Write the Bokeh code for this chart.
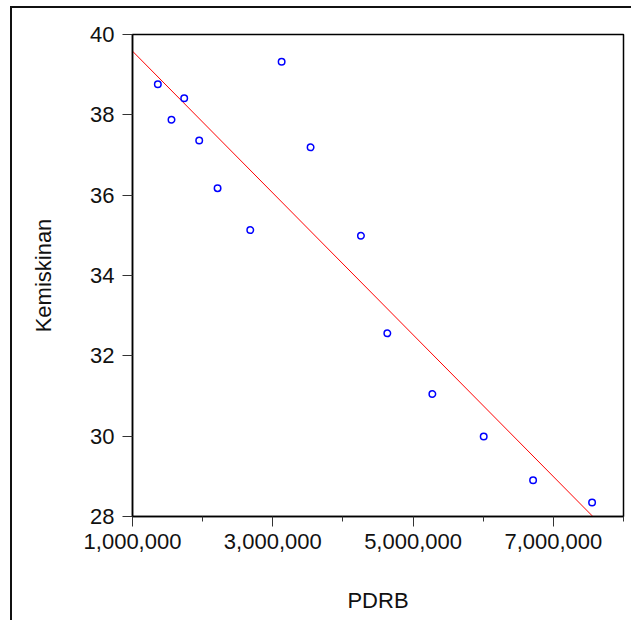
import numpy as np
from bokeh.plotting import figure
from bokeh.models import Range1d, FixedTicker, NumeralTickFormatter, ColumnDataSource
from bokeh.embed import file_html
from bokeh.resources import INLINE

# Data (PDRB vs Kemiskinan)
pdrb = [1361000, 1737000, 1556000, 1951000, 2213000, 3126000, 3539000,
        2679000, 4257000, 4633000, 5275000, 6007000, 6711000, 7552000]
kemiskinan = [38.76, 38.41, 37.88, 37.36, 36.17, 39.32, 37.19,
              35.13, 34.99, 32.56, 31.05, 29.99, 28.90, 28.35]

x_major_ticks = [1000000, 3000000, 5000000, 7000000]
x_minor_ticks = [2000000, 4000000, 6000000, 8000000]
y_ticks = [28, 30, 32, 34, 36, 38, 40]
x_limits = [1000000, 8000000]
y_limits = [28, 40]

FONT = "Liberation Sans"

p = figure(width=621, height=614, output_backend="svg", toolbar_location=None,
           x_range=Range1d(*x_limits), y_range=Range1d(*y_limits),
           min_border_left=120, min_border_top=26, min_border_right=10,
           min_border_bottom=106, background_fill_color="white",
           border_fill_color="white")
p.styles = {"border-left": "2px solid #111", "border-top": "2px solid #111",
            "margin-left": "10px", "margin-top": "6px"}

p.grid.visible = False
p.outline_line_color = "black"
p.outline_line_width = 1.5

# regression line through the library's fit of the data
slope, intercept = np.polyfit(np.array(pdrb) / 1e6, np.array(kemiskinan), 1)
line_x = np.array(x_limits, dtype=float)
line_y = intercept + slope * line_x / 1e6
p.line(line_x, line_y, line_color="#FF0000", line_width=1)

src = ColumnDataSource(dict(x=pdrb, y=kemiskinan))
p.scatter("x", "y", source=src, marker="circle", size=6.5,
          fill_color=None, line_color="#0000FF", line_width=1.5)

# x axis
xa = p.xaxis[0]
xa.ticker = FixedTicker(ticks=x_major_ticks, minor_ticks=x_minor_ticks)
xa.formatter = NumeralTickFormatter(format="0,0")
xa.axis_label = "PDRB"
# y axis
ya = p.yaxis[0]
ya.ticker = FixedTicker(ticks=y_ticks, minor_ticks=[])
ya.axis_label = "Kemiskinan"

for ax in (xa, ya):
    ax.axis_line_color = "black"
    ax.axis_line_width = 1.5
    ax.major_tick_in = 0
    ax.major_tick_out = 10
    ax.minor_tick_in = 0
    ax.minor_tick_out = 5
    ax.major_tick_line_color = "#333333"
    ax.minor_tick_line_color = "#333333"
    ax.major_label_text_font = FONT
    ax.major_label_text_font_size = "22px"
    ax.major_label_text_color = "#111111"
    ax.axis_label_text_font = FONT
    ax.axis_label_text_font_size = "22px"
    ax.axis_label_text_font_style = "normal"
    ax.axis_label_text_color = "#111111"

xa.major_label_standoff = 7
xa.axis_label_standoff = 36
ya.major_label_standoff = 8
ya.axis_label_standoff = 31

open("out.html", "w").write(file_html(p, INLINE))
